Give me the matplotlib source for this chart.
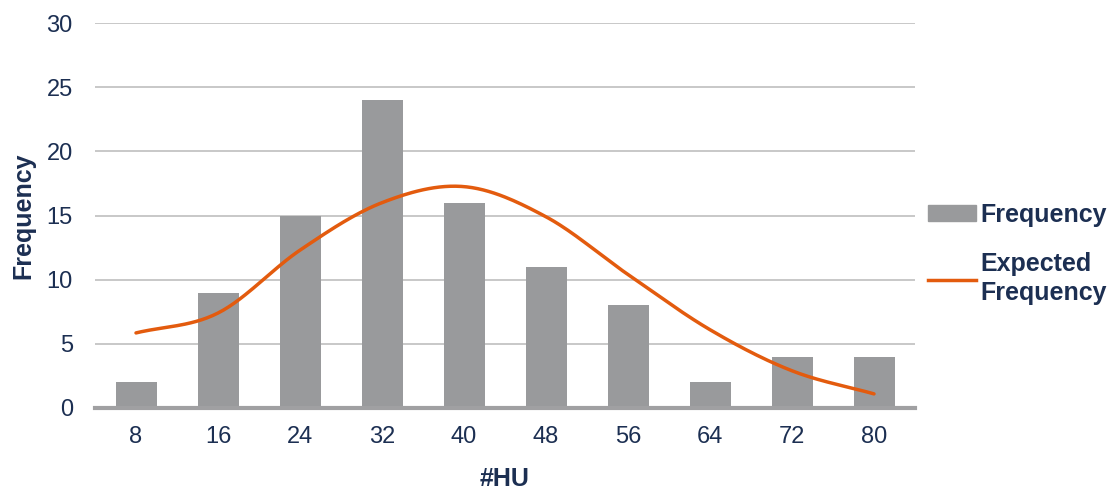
import numpy as np
import matplotlib.pyplot as plt
from matplotlib.lines import Line2D
from matplotlib.patches import Patch

# histogram of #HU with fitted expected frequency
bins = ['8', '16', '24', '32', '40', '48', '56', '64', '72', '80']
freq = [2, 9, 15, 24, 16, 11, 8, 2, 4, 4]
expected = [5.85, 7.4, 12.3, 16.0, 17.25, 14.9, 10.4, 6.1, 2.9, 1.1]

navy = '#1c2f52'
bar_col = '#999a9c'
line_col = '#e35b0e'

plt.rcParams['font.family'] = ['Liberation Sans', 'DejaVu Sans']


def smooth(y, n=30):
    # Catmull-Rom style smoothing between points, like a smoothed line chart
    y = np.asarray(y, dtype=float)
    p = np.concatenate([[2 * y[0] - y[1]], y, [2 * y[-1] - y[-2]]])
    xs, ys = [], []
    for i in range(len(y) - 1):
        p0, p1, p2, p3 = p[i], p[i + 1], p[i + 2], p[i + 3]
        t = np.linspace(0, 1, n, endpoint=False)
        v = 0.5 * ((2 * p1) + (-p0 + p2) * t + (2 * p0 - 5 * p1 + 4 * p2 - p3) * t ** 2
                   + (-p0 + 3 * p1 - 3 * p2 + p3) * t ** 3)
        xs.append(i + t)
        ys.append(v)
    xs.append([len(y) - 1])
    ys.append([y[-1]])
    return np.concatenate(xs), np.concatenate(ys)


fig = plt.figure(figsize=(11.19, 4.95), dpi=100)
ax = fig.add_axes([95 / 1119, 1 - 408 / 495, 820 / 1119, 385 / 495])

x = np.arange(len(bins))
ax.bar(x, freq, width=0.5, color=bar_col, zorder=2)
sx, sy = smooth(expected)
ax.plot(sx, sy, color=line_col, lw=2.5, zorder=3, solid_capstyle='round')

ax.set_xlim(-0.5, len(bins) - 0.5)
ax.set_ylim(0, 30)
ax.set_yticks(range(0, 31, 5))
ax.set_xticks(x)
ax.set_xticklabels(bins)
ax.yaxis.grid(True, color='#c4c4c4', lw=1.3, zorder=0)
ax.set_axisbelow(True)
for s in ['top', 'right', 'left']:
    ax.spines[s].set_visible(False)
ax.spines['bottom'].set_color('#a0a0a2')
ax.spines['bottom'].set_linewidth(3)
ax.spines['bottom'].set_zorder(4)
ax.tick_params(length=0, labelsize=17, labelcolor=navy)
ax.tick_params(axis='x', pad=13)
ax.tick_params(axis='y', pad=16)

ax.set_xlabel('#HU', fontsize=18, fontweight='bold', color=navy, labelpad=14)
ax.set_ylabel('Frequency', fontsize=18, fontweight='bold', color=navy, labelpad=8)

handles = [Patch(color=bar_col), Line2D([0], [0], color=line_col, lw=2.5)]
leg = fig.legend(handles, ['Frequency', 'Expected\nFrequency'], loc='center left',
                 bbox_to_anchor=(928 / 1119, 1 - 254 / 495), frameon=False,
                 prop={'size': 18, 'weight': 'bold'}, handlelength=1.9,
                 handleheight=0.6, handletextpad=0.2, labelspacing=1.0,
                 borderpad=0, borderaxespad=0)
for t in leg.get_texts():
    t.set_color(navy)
    t.set_linespacing(1.25)

fig.savefig('out.png', dpi=100)
